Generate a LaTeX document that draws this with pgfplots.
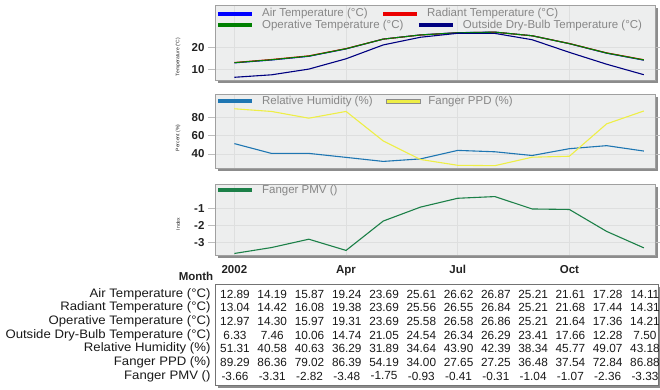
\documentclass[border=0pt]{standalone}
\usepackage{pgfplots}
\usepackage{pgfplotstable}
\pgfplotsset{compat=1.18}
\usetikzlibrary{shadows}
\usepackage{fontspec}
\setmainfont{Liberation Sans}
\newfontfamily\tablefont{Liberation Sans}[FakeStretch=1.07]

\definecolor{bgc}{RGB}{237,238,238}
\definecolor{gridc}{RGB}{222,223,223}
\definecolor{bordc}{RGB}{160,160,160}
\definecolor{shadc}{RGB}{140,140,140}
\definecolor{labc}{RGB}{34,34,34}
\definecolor{legc}{RGB}{135,135,135}
\definecolor{airc}{RGB}{0,0,255}
\definecolor{radc}{RGB}{235,0,0}
\definecolor{opc}{RGB}{0,128,0}
\definecolor{outc}{RGB}{0,0,128}
\definecolor{rhc}{RGB}{30,118,178}
\definecolor{ppdc}{RGB}{238,238,70}
\definecolor{pmvc}{RGB}{28,128,72}

% Monthly averages, 2002
\pgfplotstableread{
m  air   rad   op    out   rh    ppd   pmv
0  12.89 13.04 12.97 6.33  51.31 89.29 -3.66
1  14.19 14.42 14.30 7.46  40.58 86.36 -3.31
2  15.87 16.08 15.97 10.06 40.63 79.02 -2.82
3  19.24 19.38 19.31 14.74 36.29 86.39 -3.48
4  23.69 23.69 23.69 21.05 31.89 54.19 -1.75
5  25.61 25.56 25.58 24.54 34.64 34.00 -0.93
6  26.62 26.55 26.58 26.34 43.90 27.65 -0.41
7  26.87 26.84 26.86 26.29 42.39 27.25 -0.31
8  25.21 25.21 25.21 23.41 38.34 36.48 -1.04
9  21.61 21.68 21.64 17.66 45.77 37.54 -1.07
10 17.28 17.44 17.36 12.28 49.07 72.84 -2.36
11 14.11 14.31 14.21 7.50  43.18 86.88 -3.33
}\monthly

\pgfplotsset{
  panel/.style={
    scale only axis, width=440pt,
    xmin=-0.52, xmax=11.3,
    xtick={0,3,6,9},
    axis background/.style={fill=bgc,
      drop shadow={shadow xshift=3pt, shadow yshift=-3pt, fill=shadc, opacity=1}},
    axis line style={draw=bordc, line width=0.5pt},
    grid=major, grid style={draw=gridc, line width=0.5pt},
    tick align=outside, major tick length=7pt,
    xtick style={draw=none},
    ytick style={draw=bordc!70, line width=0.4pt},
    tick label style={font=\fontsize{11.5}{12}\selectfont\bfseries, text=labc},
    /pgf/number format/assume math mode=true,
    ylabel style={font=\fontsize{5}{6}\selectfont, text=labc, anchor=center},
  },
  series/.style={line width=1.1pt, mark=none},
}

% legend swatch with its text
\newcommand\legfont{\fontsize{11.5}{13}\selectfont}
\newcommand\legitem[4]{%
  \draw[draw=#3, line width=4pt] (axis description cs:#1,#2) -- ([xshift=34pt]axis description cs:#1,#2)
    node[anchor=west, inner sep=0pt, xshift=8pt, font=\legfont, text=legc] {#4};}

\begin{document}
\begin{tikzpicture}
\useasboundingbox (0,0) rectangle (660pt,-390pt);

% Temperatures
\begin{axis}[panel, at={(215pt,-5pt)}, anchor=north west, height=75pt,
  ymin=5.1, ymax=39.2, ytick={10,20}, xticklabels={,,,},
  ylabel={Temperature (°C)},
  ylabel style={at={(axis description cs:-0.084,0.307)}}]
  \addplot[series, airc] table[x=m, y=air]{\monthly};
  \addplot[series, radc] table[x=m, y=rad]{\monthly};
  \addplot[series, opc]  table[x=m, y=op]{\monthly};
  \addplot[series, outc] table[x=m, y=out]{\monthly};
  \legitem{0.007}{0.88}{airc}{Air Temperature (°C)}
  \legitem{0.382}{0.88}{radc}{Radiant Temperature (°C)}
  \legitem{0.007}{0.73}{opc}{Operative Temperature (°C)}
  \legitem{0.4636}{0.73}{outc}{Outside Dry-Bulb Temperature (°C)}
\end{axis}

% Percentages
\begin{axis}[panel, at={(215pt,-94pt)}, anchor=north west, height=74pt,
  ymin=24.7, ymax=105.4, ytick={40,60,80}, xticklabels={,,,},
  ylabel={Percent (\%)},
  ylabel style={at={(axis description cs:-0.084,0.405)}}]
  \addplot[series, rhc]  table[x=m, y=rh]{\monthly};
  \addplot[series, ppdc] table[x=m, y=ppd]{\monthly};
  \legitem{0.007}{0.905}{rhc}{Relative Humidity (\%)}
  \fill[ppdc, draw=black!45, line width=0.4pt] ([yshift=-2pt]axis description cs:0.389,0.905)
    rectangle ([xshift=34pt, yshift=2pt]axis description cs:0.389,0.905);
  \node[anchor=west, inner sep=0pt, font=\legfont, text=legc]
    at ([xshift=42pt]axis description cs:0.389,0.905) {Fanger PPD (\%)};
\end{axis}

% Comfort index
\begin{axis}[panel, at={(215pt,-184pt)}, anchor=north west, height=71pt,
  ymin=-3.75, ymax=0.43, ytick={-3,-2,-1},
  xticklabels={2002,Apr,Jul,Oct},
  ylabel={Index},
  ylabel style={at={(axis description cs:-0.084,0.437)}}]
  \addplot[series, pmvc] table[x=m, y=pmv]{\monthly};
  \legitem{0.007}{0.915}{pmvc}{Fanger PMV ()}
\end{axis}

\node[font=\fontsize{11.5}{12}\selectfont\bfseries, text=labc] at (196pt,-276pt) {Month};

% Value table
\begin{axis}[at={(215pt,-284pt)}, anchor=north west,
  scale only axis, width=443pt, height=101pt,
  xmin=-0.536, xmax=11.35, ymin=0.27, ymax=7.66, y dir=reverse,
  clip=false,
  axis background/.style={fill=white,
    drop shadow={shadow xshift=3pt, shadow yshift=-3pt, fill=shadc, opacity=1}},
  axis line style={draw=black!55, line width=0.5pt},
  xtick=\empty, ytick={1,...,7}, major tick length=0pt,
  yticklabels={Air Temperature (°C), Radiant Temperature (°C), Operative Temperature (°C),
    Outside Dry-Bulb Temperature (°C), Relative Humidity (\%), Fanger PPD (\%), Fanger PMV ()},
  yticklabel style={font=\tablefont\fontsize{12.3}{14}\selectfont, text=black!90, xshift=-1pt},
  point meta=explicit,
  nodes near coords={\pgfmathprintnumber[fixed, fixed zerofill, precision=2, assume math mode=true]{\pgfplotspointmeta}},
  every node near coord/.append style={anchor=center, inner sep=0pt,
    font=\fontsize{11.8}{14}\selectfont, text=black!90},
  cell/.style={draw=none, mark=none}]
  \addplot[cell] table[x=m, y expr=1, meta=air]{\monthly};
  \addplot[cell] table[x=m, y expr=2, meta=rad]{\monthly};
  \addplot[cell] table[x=m, y expr=3, meta=op]{\monthly};
  \addplot[cell] table[x=m, y expr=4, meta=out]{\monthly};
  \addplot[cell] table[x=m, y expr=5, meta=rh]{\monthly};
  \addplot[cell] table[x=m, y expr=6, meta=ppd]{\monthly};
  \addplot[cell] table[x=m, y expr=7, meta=pmv]{\monthly};
\end{axis}
\end{tikzpicture}
\end{document}
